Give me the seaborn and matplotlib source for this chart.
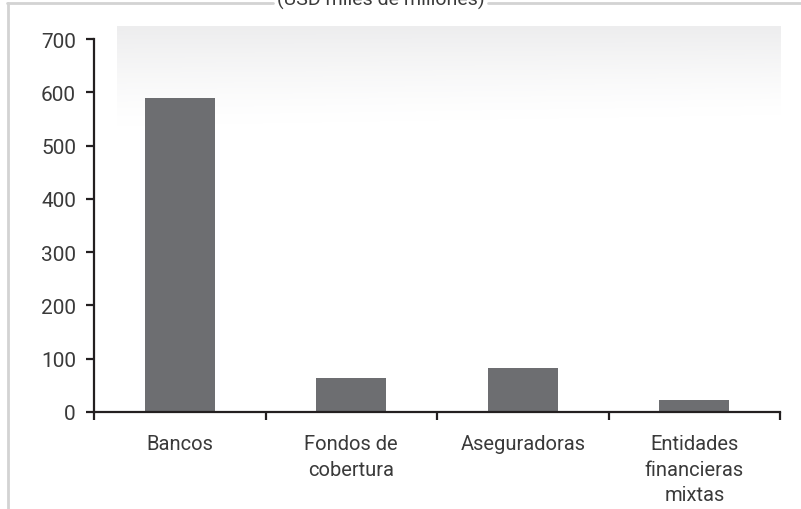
import matplotlib
matplotlib.use("Agg")
import matplotlib.pyplot as plt
import seaborn as sns
import numpy as np
import pandas as pd
from matplotlib.lines import Line2D

categories = ["Bancos", "Fondos de\ncobertura", "Aseguradoras", "Entidades\nfinancieras\nmixtas"]
values = [590, 63, 82, 22]
yticks = [0, 100, 200, 300, 400, 500, 600, 700]
title = "(USD miles de millones)"

sns.set_theme(style="white")
plt.rcParams['font.family'] = ['Roboto', 'DejaVu Sans']

W, H = 801, 510
fig = plt.figure(figsize=(W / 100, H / 100), dpi=100)
fig.patch.set_facecolor("white")

def fx(px):
    return px / W

def fy(py):
    return 1 - py / H

# gradient background band
gax = fig.add_axes([fx(117), fy(140), fx(781) - fx(117), fy(27) - fy(140)], zorder=0)
ny, nx = 120, 200
yy = np.linspace(0, 1, ny)[:, None]
xx = np.linspace(0, 1, nx)[None, :]
alpha = np.clip(1 - yy / (0.9 - 0.1 * xx), 0, 1) ** 1.3
rgba = np.zeros((ny, nx, 4))
rgba[..., 0] = 0.93
rgba[..., 1] = 0.93
rgba[..., 2] = 0.935
rgba[..., 3] = alpha
gax.imshow(rgba, aspect="auto", extent=[0, 1, 1, 0])
gax.set_axis_off()

ax = fig.add_axes([fx(94), fy(413), fx(780) - fx(94), fy(40) - fy(413)], zorder=1)
ax.set_facecolor("none")

df = pd.DataFrame({"cat": categories, "val": values})
sns.barplot(data=df, x="cat", y="val", color="#6d6e71", width=0.41,
            saturation=1, ax=ax, edgecolor="none")

ax.set_xlim(-0.5, 3.5)
ax.set_ylim(0, 700)
ax.set_yticks(yticks)
ax.set_yticklabels([str(v) for v in yticks])
ax.set_xlabel("")
ax.set_ylabel("")

for s in ["top", "right"]:
    ax.spines[s].set_visible(False)
for s in ["left", "bottom"]:
    ax.spines[s].set_color("#231f20")
    ax.spines[s].set_linewidth(1.6)

ax.set_xticks(np.arange(len(categories)))
ax.set_xticklabels(categories, linespacing=1.42)
ax.set_xticks(np.arange(len(categories) + 1) - 0.5, minor=True)
ax.tick_params(axis="x", which="major", length=0, pad=16, labelsize=14.5, labelcolor="#3a3a3a")
ax.tick_params(axis="x", which="minor", length=6, width=1.6, color="#231f20", direction="out", bottom=True)
ax.tick_params(axis="y", which="major", length=6, width=1.6, color="#231f20", direction="out",
               pad=7, labelsize=15, labelcolor="#3a3a3a", left=True)

# frame lines
fig.add_artist(Line2D([fx(8), fx(8)], [fy(4), 0], color="#d3d3d3", lw=2.0, transform=fig.transFigure))
fig.add_artist(Line2D([fx(7), fx(273)], [fy(4), fy(4)], color="#d3d3d3", lw=2.0, transform=fig.transFigure))
fig.add_artist(Line2D([fx(488), 1], [fy(4), fy(4)], color="#d3d3d3", lw=2.0, transform=fig.transFigure))
fig.text(fx(381), fy(6), title, ha="center", va="baseline", fontsize=14, color="#3a3a3a")

fig.savefig("out.png", dpi=100, facecolor="white")
